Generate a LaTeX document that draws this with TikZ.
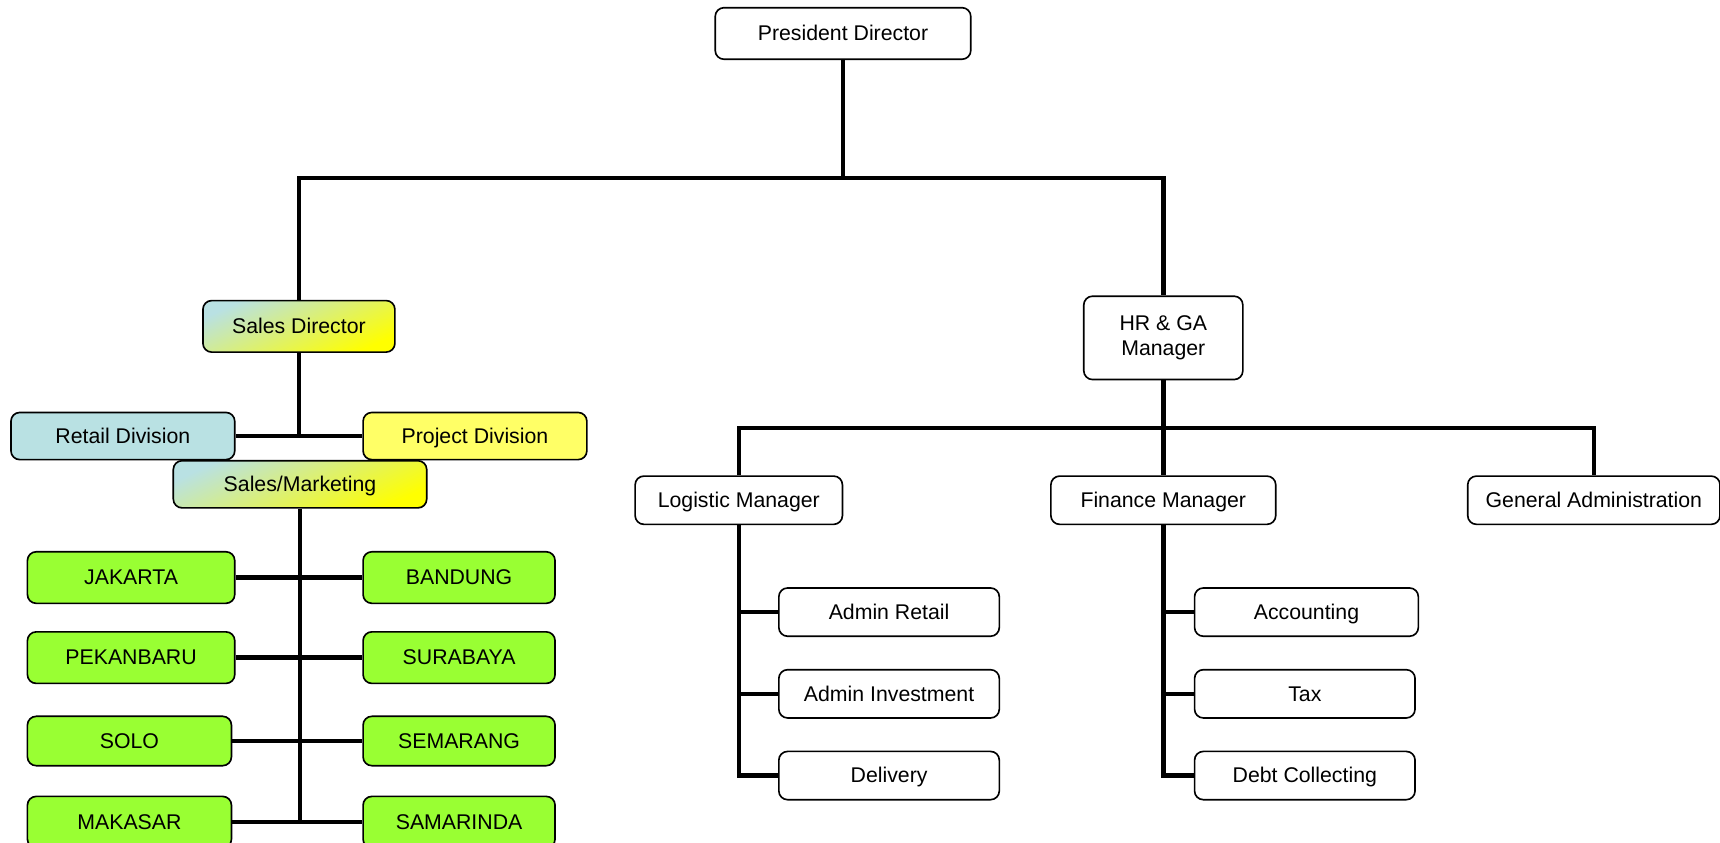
\documentclass[tikz,border=0pt]{standalone}
\usepackage{fontspec}
\setmainfont{Liberation Sans}
\usetikzlibrary{positioning}

\definecolor{retailblue}{HTML}{B9E1E3}
\definecolor{projyellow}{HTML}{FFFF66}
\definecolor{citygreen}{HTML}{99FF33}

\tikzset{
  boxbase/.style={draw, rounded corners=4pt, line width=0.75pt,
    minimum height=22pt, inner sep=2pt, align=center,
    font=\fontsize{9.7}{11.5}\selectfont},
  box/.style={boxbase, text height=1.6ex, text depth=0.35ex},
  city/.style={box, fill=citygreen, minimum height=23.5pt},
  mixbox/.style={box, left color=retailblue, right color=yellow, shading angle=25},
  link/.style={line width=2pt}
}

\begin{document}
\begin{tikzpicture}[x=0.5pt, y=-0.5pt]
\useasboundingbox (0,0) rectangle (1568,768);

% Top
\node[box, minimum width=116.5pt, minimum height=23.5pt] (pres) at (768.5,30.5) {President Director};

% Sales side
\node[mixbox, minimum width=87.5pt, minimum height=23.5pt] (salesdir) at (272.5,297.5) {Sales Director};
\node[box, fill=retailblue, minimum width=102pt, minimum height=21.5pt] (retail) at (112,397.5) {Retail Division};
\node[box, fill=projyellow, minimum width=102pt, minimum height=21.5pt] (project) at (433,397.5) {Project Division};
\node[mixbox, minimum width=115.5pt, minimum height=21.5pt] (salesmkt) at (273.5,441.5) {Sales/Marketing};

% Branches
\node[city, minimum width=94.5pt] (jakarta) at (119.5,526.5) {JAKARTA};
\node[city, minimum width=87.5pt] (bandung) at (418.5,526.5) {BANDUNG};
\node[city, minimum width=94.5pt] (pekanbaru) at (119.5,599.5) {PEKANBARU};
\node[city, minimum width=87.5pt] (surabaya) at (418.5,599.5) {SURABAYA};
\node[city, minimum width=93pt, minimum height=22.5pt] (solo) at (118,675.5) {SOLO};
\node[city, minimum width=87.5pt, minimum height=22.5pt] (semarang) at (418.5,675.5) {SEMARANG};
\node[city, minimum width=93pt] (makasar) at (118,749.5) {MAKASAR};
\node[city, minimum width=87.5pt] (samarinda) at (418.5,749.5) {SAMARINDA};

% HR side
\node[boxbase, minimum width=72.5pt, minimum height=38pt] (hrga) at (1060.5,308) {HR \& GA\\Manager};
\node[box, minimum width=94.5pt] (logistic) at (673.5,456) {Logistic Manager};
\node[box, minimum width=102.5pt] (finance) at (1060.5,456) {Finance Manager};
\node[box, minimum width=115pt] (genadmin) at (1453,456) {General Administration};

\node[box, minimum width=100.5pt] (adretail) at (810.5,558) {Admin Retail};
\node[box, minimum width=100.5pt, below=14.5pt of adretail] (adinvest) {Admin Investment};
\node[box, minimum width=100.5pt, below=14.5pt of adinvest] (delivery) {Delivery};

\node[box, minimum width=102pt] (accounting) at (1191,558) {Accounting};
\node[box, minimum width=100.5pt, below=14.5pt of accounting.south west, anchor=north west] (tax) {Tax};
\node[box, minimum width=100.5pt, below=14.5pt of tax] (debt) {Debt Collecting};

% Connectors
\coordinate (topbus) at (768.5,162);
\draw[link] (pres.south) -- (topbus);
\draw[link] (salesdir.north) |- (topbus) -| (hrga.north);

\draw[link] (salesdir.south) -- (salesdir |- retail);
\draw[link] (retail) -- (project);
\draw[link] (salesmkt.south) -- (salesmkt.south |- makasar);
\draw[link] (jakarta) -- (bandung);
\draw[link] (pekanbaru) -- (surabaya);
\draw[link] (solo) -- (semarang);
\draw[link] (makasar) -- (samarinda);

\coordinate (hrbus) at (1060.5,390);
\draw[link] (logistic.north) |- (hrbus) -| (genadmin.north);
\draw[link] (hrga.south) -- (finance.north);

\draw[link] (logistic.south) |- (delivery.west);
\draw[link] (logistic |- adretail) -- (adretail.west);
\draw[link] (logistic |- adinvest) -- (adinvest.west);

\draw[link] (finance.south) |- (debt.west);
\draw[link] (finance |- accounting) -- (accounting.west);
\draw[link] (finance |- tax) -- (tax.west);

\end{tikzpicture}
\end{document}
